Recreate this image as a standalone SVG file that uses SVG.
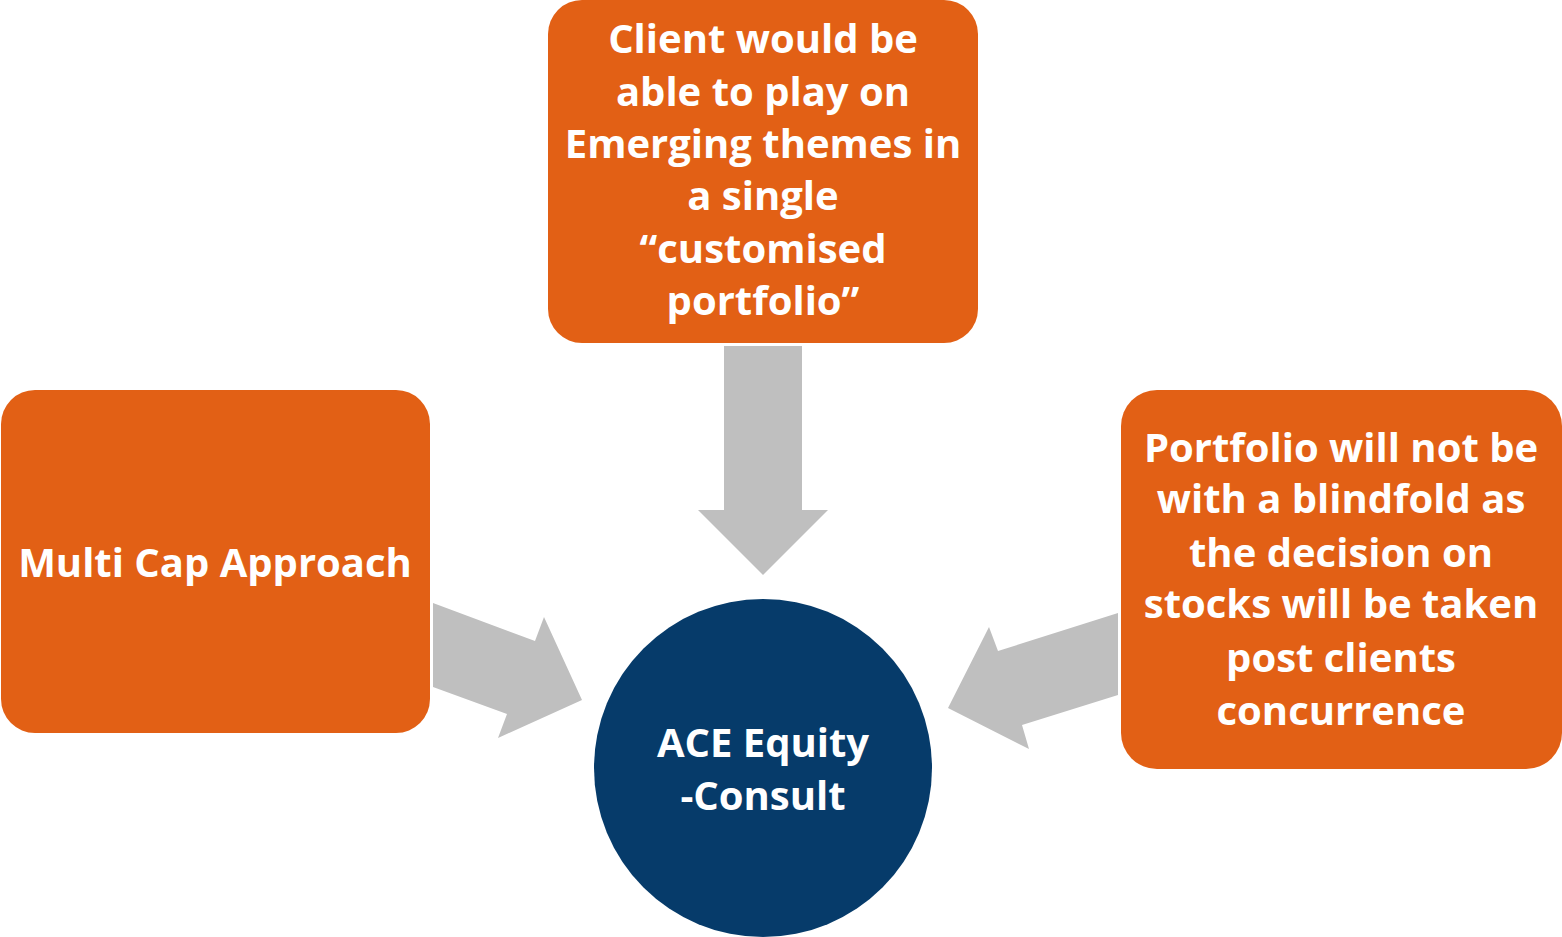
<svg xmlns="http://www.w3.org/2000/svg" width="1562" height="937" viewBox="0 0 1562 937">
<style>
.box{fill:#E26015;}
.hub{fill:#063B6A;}
.arr{fill:#BFBFBF;}
text{font-family:"Open Sans","Noto Sans","Liberation Sans",sans-serif;font-weight:bold;font-size:40px;fill:#FFFFFF;text-anchor:middle;}
</style>
<rect width="1562" height="937" fill="#FFFFFF"/>
<g id="connectors">
<polygon class="arr" points="724,346 802,346 802,510 828,510 763,575 698,510 724,510"/>
<polygon class="arr" points="433,603 535,641 544,617 582,700 498,738 507,714 433,687"/>
<polygon class="arr" points="1118,613 998,651 989,627 948,708 1029,749 1022,725 1118,695"/>
</g>
<g id="node-top">
<rect class="box" x="548" y="0" width="430" height="343" rx="34"/>
<text x="763" y="53">Client would be</text>
<text x="763" y="106">able to play on</text>
<text x="763" y="158">Emerging themes in</text>
<text x="763" y="210">a single</text>
<text x="763" y="263">“customised</text>
<text x="763" y="315">portfolio”</text>
</g>
<g id="node-left">
<rect class="box" x="1" y="390" width="429" height="343" rx="34"/>
<text x="215" y="577">Multi Cap Approach</text>
</g>
<g id="node-right">
<rect class="box" x="1121" y="390" width="441" height="379" rx="36"/>
<text x="1341" y="462">Portfolio will not be</text>
<text x="1341" y="513">with a blindfold as</text>
<text x="1341" y="567">the decision on</text>
<text x="1341" y="618">stocks will be taken</text>
<text x="1341" y="672">post clients</text>
<text x="1341" y="725">concurrence</text>
</g>
<g id="node-hub">
<circle class="hub" cx="763" cy="768" r="169"/>
<text x="763" y="757">ACE Equity</text>
<text x="763" y="810">-Consult</text>
</g>
</svg>
